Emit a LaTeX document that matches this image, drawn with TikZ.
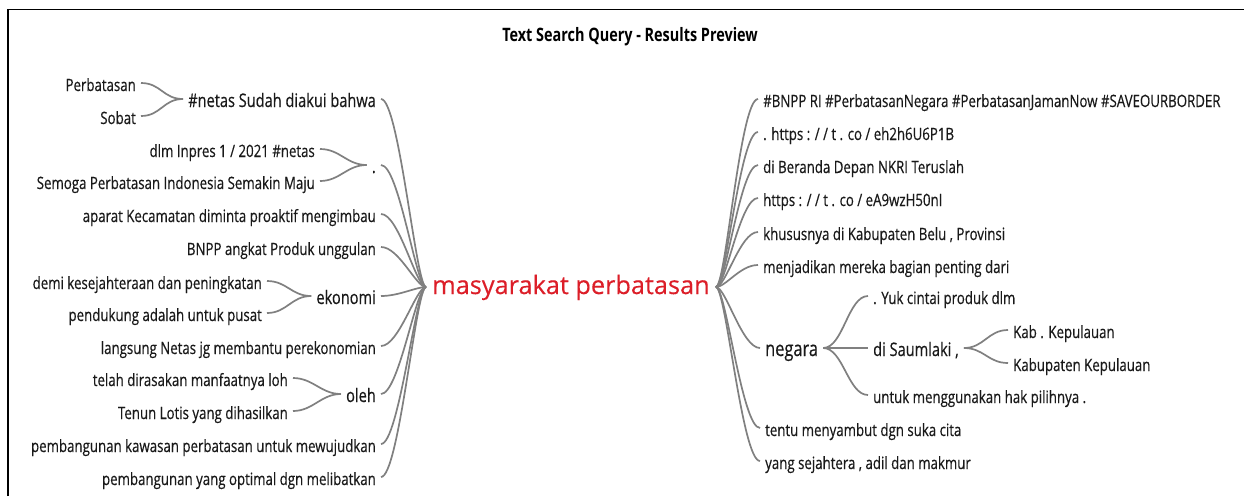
\documentclass[tikz,border=0pt]{standalone}
\usepackage{fontspec}
\setmainfont[FakeStretch=0.78, UprightFeatures={FakeBold=0.4}]{Open Sans}
\newfontfamily\centerfont[FakeBold=0.3]{Open Sans}
\definecolor{txt}{RGB}{25,25,25}
\definecolor{linegray}{RGB}{128,128,128}
\definecolor{centerred}{RGB}{220,30,40}
\begin{document}
\begin{tikzpicture}[x=1pt,y=-1pt,
  conn/.style={draw=linegray, line width=1.7pt},
  lt/.style={anchor=base east, inner xsep=5pt, inner ysep=0pt, text height=16pt, text depth=0pt,
    font=\fontsize{17}{20}\selectfont, text=txt},
  rt/.style={lt, anchor=base west},
  big/.style={font=\fontsize{18.7}{22}\selectfont},
  bigger/.style={font=\fontsize{21}{24}\selectfont},
]
\useasboundingbox (0,0) rectangle (1244,496);
\fill[white] (0,0) rectangle (1244,496);
\draw[line width=1.5pt, black] (8,496) -- (8,9.5) -- (1244,9.5);

\node[anchor=base, font=\bfseries\fontsize{18.5}{22}\selectfont, text=black] (title) at (630,41) {Text Search Query - Results Preview};

\node[anchor=base west, inner xsep=6pt, inner ysep=0pt, text height=20pt, text depth=6pt,
  font=\centerfont\fontsize{25.3}{30}\selectfont, text=centerred] (c) at (426,294) {masyarakat perbatasan};

% left side
\node[lt] (L1) at (141,91) {Perbatasan};
\node[lt] (L2) at (141,124) {Sobat};
\node[lt,big] (L3) at (381,107) {\#netas Sudah diakui bahwa};
\node[lt] (L4) at (320,157) {dlm Inpres 1 / 2021 \#netas};
\node[lt] (L5) at (320,189) {Semoga Perbatasan Indonesia Semakin Maju};
\node[lt,big] (L6) at (381,173) {.};
\node[lt] (L7) at (381,222) {aparat Kecamatan diminta proaktif mengimbau};
\node[lt] (L8) at (381,255) {BNPP angkat Produk unggulan};
\node[lt] (L9) at (267,289) {demi kesejahteraan dan peningkatan};
\node[lt,big] (L10) at (381,304) {ekonomi};
\node[lt] (L11) at (267,321) {pendukung adalah untuk pusat};
\node[lt] (L12) at (381,354) {langsung Netas jg membantu perekonomian};
\node[lt] (L13) at (293,386) {telah dirasakan manfaatnya loh};
\node[lt,big] (L14) at (381,402) {oleh};
\node[lt] (L15) at (293,419) {Tenun Lotis yang dihasilkan};
\node[lt] (L16) at (381,452) {pembangunan kawasan perbatasan untuk mewujudkan};
\node[lt] (L17) at (381,485) {pembangunan yang optimal dgn melibatkan};

% right side
\node[rt] (R1) at (758,107) {\#BNPP RI \#PerbatasanNegara \#PerbatasanJamanNow \#SAVEOURBORDER};
\node[rt] (R2) at (758,140) {. https : / / t . co / eh2h6U6P1B};
\node[rt] (R3) at (758,173) {di Beranda Depan NKRI Teruslah};
\node[rt] (R4) at (758,206) {https : / / t . co / eA9wzH50nI};
\node[rt] (R5) at (758,240) {khususnya di Kabupaten Belu , Provinsi};
\node[rt] (R6) at (758,273) {menjadikan mereka bagian penting dari};
\node[rt,bigger] (R7) at (760,356) {negara};
\node[rt] (R8) at (868,304) {. Yuk cintai produk dlm};
\node[rt,big] (R9) at (868,356) {di Saumlaki ,};
\node[rt] (R10) at (1008,338) {Kab . Kepulauan};
\node[rt] (R11) at (1008,371) {Kabupaten Kepulauan};
\node[rt] (R12) at (868,403) {untuk menggunakan hak pilihnya .};
\node[rt] (R13) at (760,436) {tentu menyambut dgn suka cita};
\node[rt] (R14) at (760,469) {yang sejahtera , adil dan makmur};

% connectors to hub, left
\foreach \n in {L3,L6,L7,L8,L10,L12,L14,L16,L17}
  \draw[conn] (\n.east) .. controls +(18,0) and +(-10,0) .. (c.west);
% sub branches, left
\foreach \a/\b in {L1/L3,L2/L3,L4/L6,L5/L6,L9/L10,L11/L10,L13/L14,L15/L14}
  \draw[conn] (\a.east) .. controls +(20,0) and +(-20,0) .. (\b.west);

% connectors from hub, right
\foreach \n in {R1,R2,R3,R4,R5,R6,R7,R13,R14}
  \draw[conn] (c.east) .. controls +(10,0) and +(-18,0) .. (\n.west);
% sub branches, right
\foreach \a/\b in {R7/R8,R7/R9,R7/R12,R9/R10,R9/R11}
  \draw[conn] (\a.east) .. controls +(20,0) and +(-20,0) .. (\b.west);
\end{tikzpicture}
\end{document}
